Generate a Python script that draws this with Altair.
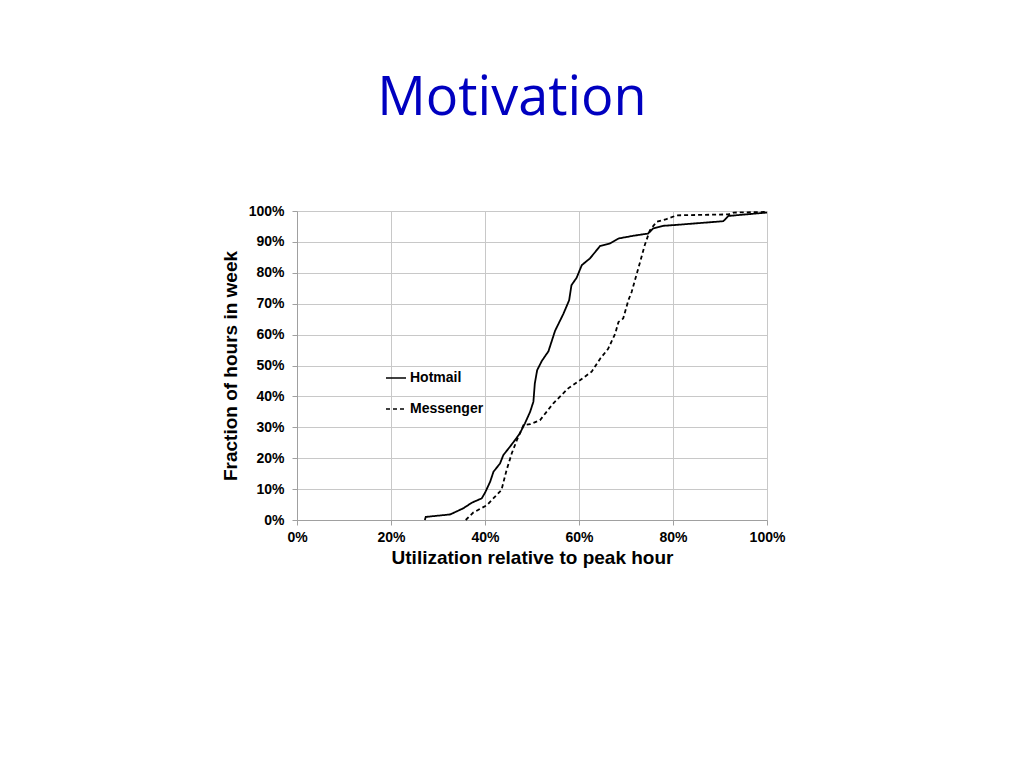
import altair as alt
import pandas as pd

hotmail_x = [27.2, 27.4, 32.6, 35.4, 37.2, 39.3, 40.0, 41.1, 41.8, 43.2, 43.9, 45.3, 46.4, 47.4, 48.5, 49.6, 50.3, 50.6,
             51.1, 52.1, 53.5, 54.9, 56.7, 57.9, 58.4, 59.5, 60.6, 62.3, 64.5, 66.6, 68.4, 71.6, 74.7, 75.8, 77.9, 80.7,
             90.7, 91.8, 100]
hotmail_y = [0, 1.0, 1.8, 3.8, 5.6, 7.0, 8.8, 12.4, 15.6, 18.3, 21.0, 23.7, 25.9, 28.0, 31.3, 35.0, 38.3, 44.2,
             48.5, 51.5, 54.6, 61.2, 66.8, 71.1, 76.0, 78.4, 82.5, 84.6, 88.7, 89.5, 91.1, 92.0, 92.7, 94.4, 95.2, 95.5,
             96.7, 98.4, 99.5]
messenger_x = [35.9, 37.5, 40.4, 43.5, 44.6, 45.7, 46.8, 48.2, 49.6, 51.7, 54.5, 57.7, 60.2, 62.7, 64.5, 66.2, 67.7,
               68.4, 69.4, 70.5, 71.2, 71.9, 73.0, 74.0, 75.1, 76.5, 78.6, 80.8, 91.8, 92.9, 100]
messenger_y = [0, 2.4, 4.8, 9.7, 16.2, 21.6, 25.9, 30.7, 31.0, 32.3, 37.7, 42.6, 45.2, 48.0, 52.2, 55.4, 60.3,
               64.1, 65.2, 71.1, 73.8, 77.6, 83.5, 89.0, 93.8, 96.5, 97.4, 98.6, 98.9, 99.5, 99.7]
series_names = ["Hotmail", "Messenger"]
x_ticks = [0, 20, 40, 60, 80, 100]
y_ticks = [0, 10, 20, 30, 40, 50, 60, 70, 80, 90, 100]

rows = []
for i, (x, y) in enumerate(zip(hotmail_x, hotmail_y)):
    rows.append({"series": series_names[0], "x": x, "y": y, "i": i})
for i, (x, y) in enumerate(zip(messenger_x, messenger_y)):
    rows.append({"series": series_names[1], "x": x, "y": y, "i": i})
df = pd.DataFrame(rows)

chart = alt.Chart(df).mark_line(strokeWidth=1.8).encode(
    x=alt.X("x:Q", scale=alt.Scale(domain=[0, 100], nice=False),
            axis=alt.Axis(values=x_ticks, labelExpr="datum.value + '%'", labelFlush=False,
                          title="Utilization relative to peak hour", titlePadding=4)),
    y=alt.Y("y:Q", scale=alt.Scale(domain=[0, 100], nice=False),
            axis=alt.Axis(values=y_ticks, labelExpr="datum.value + '%'", labelFlush=False,
                          title="Fraction of hours in week", titlePadding=8)),
    color=alt.Color("series:N", scale=alt.Scale(domain=series_names, range=["#000000", "#000000"]),
                    legend=alt.Legend(title=None, orient="none", legendX=88, legendY=156,
                                      symbolType="stroke", symbolSize=400, symbolStrokeWidth=1.6,
                                      labelFontSize=14, labelFont="Liberation Sans", labelFontWeight="bold",
                                      labelColor="#000000", rowPadding=13, labelOffset=3)),
    strokeDash=alt.StrokeDash("series:N", scale=alt.Scale(domain=series_names, range=[[1, 0], [4, 3]]),
                              legend=None),
    order="i:Q",
).properties(
    width=470,
    height=309,
    padding={"left": 289, "top": 203, "right": 230, "bottom": 220},
    autosize=alt.AutoSizeParams(type="none"),
    background="#ffffff",
    title=alt.TitleParams("Motivation", font="Open Sans", fontSize=54, fontWeight="normal", color="#0000C0",
                          anchor="middle", frame="group", dx=-20, offset=35, baseline="alphabetic"),
).configure_view(stroke=None).configure_axis(
    labelFont="Liberation Sans", labelFontSize=14, labelFontWeight="bold", labelColor="#000000",
    titleFont="Liberation Sans", titleFontSize=19, titleFontWeight="bold", titleColor="#000000",
    gridColor="#c8c8c8", gridWidth=1, domainColor="#a0a0a0", tickColor="#a0a0a0", tickSize=5,
    labelPadding=5,
).configure_axisY(labelPadding=8)

chart.save("out.html", embed_options={"renderer": "svg", "actions": False})
